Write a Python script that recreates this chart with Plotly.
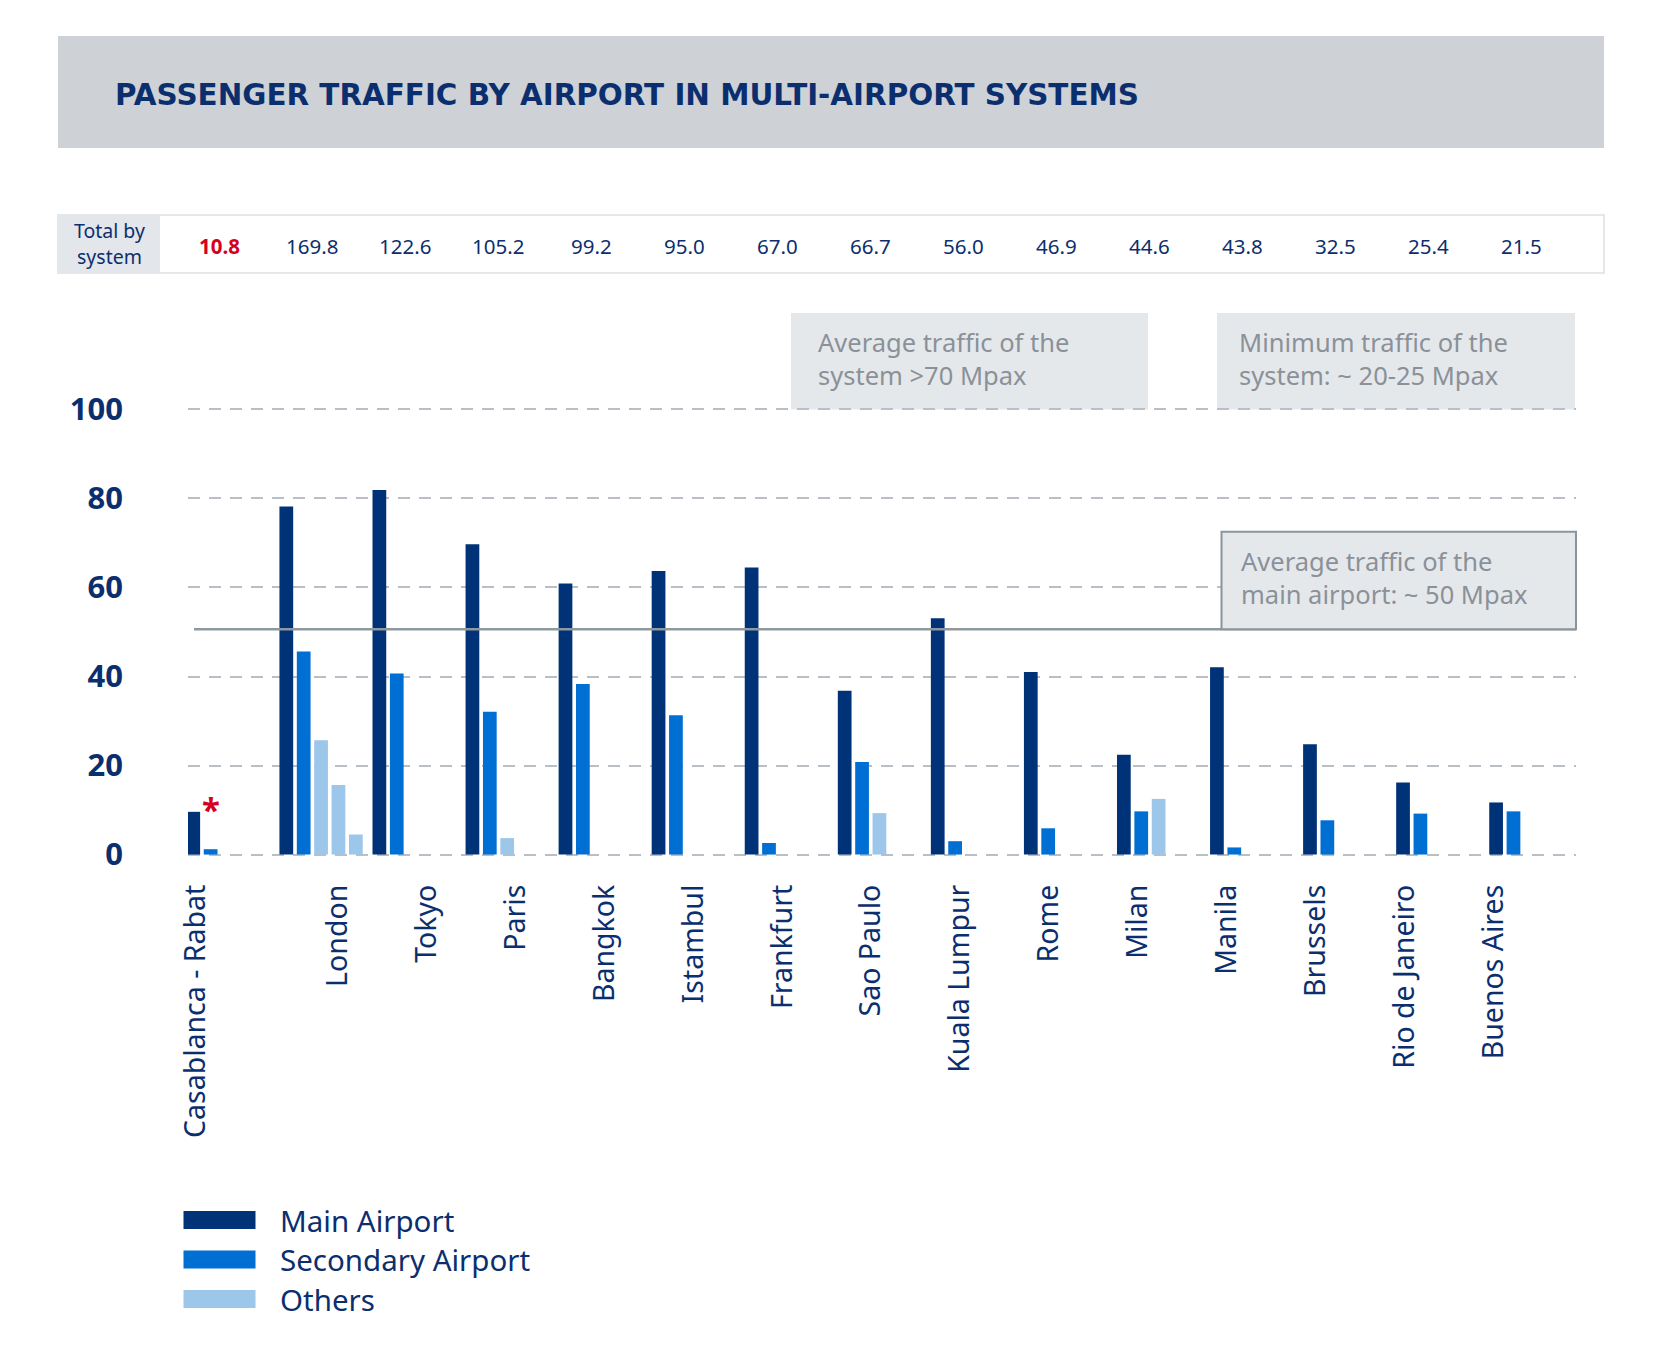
import plotly.graph_objects as go

# ---------------- data ----------------
CATEGORIES = ["Casablanca - Rabat", "London", "Tokyo", "Paris", "Bangkok", "Istambul",
              "Frankfurt", "Sao Paulo", "Kuala Lumpur", "Rome", "Milan", "Manila",
              "Brussels", "Rio de Janeiro", "Buenos Aires"]
TOTALS = [10.8, 169.8, 122.6, 105.2, 99.2, 95.0, 67.0, 66.7, 56.0, 46.9, 44.6, 43.8, 32.5, 25.4, 21.5]
MAIN = [9.6, 78.2, 81.9, 69.7, 60.9, 63.7, 64.5, 36.8, 53.1, 41.0, 22.4, 42.1, 24.8, 16.2, 11.7]
SECONDARY = [1.2, 45.6, 40.7, 32.1, 38.3, 31.3, 2.6, 20.8, 3.0, 5.9, 9.7, 1.6, 7.7, 9.2, 9.7]
OTHERS_1 = [None, 25.7, None, 3.7, None, None, None, 9.3, None, None, 12.5, None, None, None, None]
OTHERS_2 = [None, 15.6, None, None, None, None, None, None, None, None, None, None, None, None, None]
OTHERS_3 = [None, 4.5, None, None, None, None, None, None, None, None, None, None, None, None, None]
MAIN_AIRPORT_AVG = 50.6
Y_TICKS = [0, 20, 40, 60, 80, 100]

SERIES_NAMES = ["Main Airport", "Secondary Airport", "Others"]
NAVY = "#003278"
BLUE = "#006fd3"
LIGHT = "#9dc6eb"
TEXT_NAVY = "#0b2f6e"
GRAY_TXT = "#8a9198"
BOX_FILL = "#e5e8eb"
FONT = "Noto Sans"
TITLE_FONT = "DejaVu Sans"

# label slots for the rotated category labels (secondary axis positions)
LABEL_SLOTS = [-0.6] + list(range(1, 15))

x_idx = list(range(len(CATEGORIES)))

fig = go.Figure()
series = [(MAIN, NAVY, SERIES_NAMES[0]), (SECONDARY, BLUE, SERIES_NAMES[1]),
          (OTHERS_1, LIGHT, SERIES_NAMES[2]), (OTHERS_2, LIGHT, SERIES_NAMES[2]),
          (OTHERS_3, LIGHT, SERIES_NAMES[2])]
for vals, col, name in series:
    fig.add_trace(go.Bar(x=x_idx, y=vals, name=name, marker_color=col,
                         marker_line_width=0, showlegend=False))

# invisible trace to activate the label axis
fig.add_trace(go.Scatter(x=LABEL_SLOTS, y=[None] * len(LABEL_SLOTS), xaxis="x2",
                         mode="markers", showlegend=False, hoverinfo="skip"))

W, H = 1654, 1353
ML, MR, MT, MB = 180, 86, 397, 502
PW = W - ML - MR
PH = H - MT - MB


def px(xp):
    return (xp - ML) / PW


def py(yp):
    return (H - MB - yp) / PH


shapes = []
annotations = []


def note(x, y, text, size, color, family=FONT, xanchor="left", align="left", xref="paper", **kw):
    annotations.append(dict(xref=xref, yref="paper", x=x, y=y, xanchor=xanchor, yanchor="middle",
                            align=align, showarrow=False, text=text,
                            font=dict(family=family, size=size, color=color), **kw))


# header band + title
shapes.append(dict(type="rect", xref="paper", yref="paper", x0=px(50), x1=px(1596),
                   y0=py(140), y1=py(28), fillcolor="#ced2d6", line_width=0, layer="below"))
note(px(105), py(87), "<b>PASSENGER TRAFFIC BY AIRPORT IN MULTI-AIRPORT SYSTEMS</b>",
     29.4, TEXT_NAVY, family=TITLE_FONT)

# totals row
shapes.append(dict(type="rect", xref="paper", yref="paper", x0=px(50), x1=px(1596),
                   y0=py(265), y1=py(207), fillcolor="white",
                   line=dict(color="#dde1e5", width=1.5), layer="below"))
shapes.append(dict(type="rect", xref="paper", yref="paper", x0=px(50), x1=px(152),
                   y0=py(265), y1=py(207), fillcolor="#e3e6ea", line_width=0, layer="below"))
note(px(101), py(222.5), "Total by", 19.5, TEXT_NAVY, xanchor="center", align="center")
note(px(101), py(249), "system", 19.5, TEXT_NAVY, xanchor="center", align="center")
for i, t in enumerate(TOTALS):
    red = i == 0
    note(i, py(238), (f"<b>{t:.1f}</b>" if red else f"{t:.1f}"), 20.5,
         "#d6001c" if red else TEXT_NAVY, xanchor="center", align="center", xref="x", xshift=-9)

# top info boxes
for x0, x1, tx, txt in [(783, 1140, 808, "Average traffic of the<br>system >70 Mpax"),
                        (1209, 1567, 1229, "Minimum traffic of the<br>system: ~ 20-25 Mpax")]:
    shapes.append(dict(type="rect", xref="paper", yref="paper", x0=px(x0), x1=px(x1),
                       y0=py(401.5), y1=py(305), fillcolor=BOX_FILL, line_width=0, layer="below"))
    note(px(tx), py(350), txt, 25.5, GRAY_TXT)

# main airport average line + box
shapes.append(dict(type="line", xref="paper", yref="y", x0=px(186), x1=1.0,
                   y0=MAIN_AIRPORT_AVG, y1=MAIN_AIRPORT_AVG,
                   line=dict(color="#8e989f", width=2.5), layer="above"))
shapes.append(dict(type="rect", xref="paper", yref="y", x0=px(1213.5), x1=1.0,
                   y0=MAIN_AIRPORT_AVG, y1=72.5, fillcolor=BOX_FILL,
                   line=dict(color="#8a949b", width=2), layer="above"))
note(px(1231), py(569), "Average traffic of the<br>main airport: ~ 50 Mpax", 25.5, GRAY_TXT)

# red asterisk on Casablanca
annotations.append(dict(xref="x", yref="y", x=0, y=MAIN[0], xshift=-17, yshift=2,
                        showarrow=False, text="<b>*</b>",
                        font=dict(family=FONT, size=33, color="#d6001c")))

# manual legend
for k, (name, col) in enumerate(zip(SERIES_NAMES, [NAVY, BLUE, LIGHT])):
    yc = 1212 + 39.5 * k
    shapes.append(dict(type="rect", xref="paper", yref="paper", x0=px(175.5), x1=px(247.5),
                       y0=py(yc + 9), y1=py(yc - 9), fillcolor=col, line_width=0))
    note(px(270), py(yc), name, 29.5, TEXT_NAVY)

fig.update_layout(
    width=W, height=H,
    margin=dict(l=ML, r=MR, t=MT, b=MB, autoexpand=False),
    paper_bgcolor="white", plot_bgcolor="white",
    barmode="group", bargap=0.066, bargroupgap=0.21,
    showlegend=False,
    font=dict(family=FONT, color=TEXT_NAVY),
    xaxis=dict(range=[-0.430, 14.485], showticklabels=False, showgrid=False,
               zeroline=False, showline=False, ticks=""),
    xaxis2=dict(overlaying="x", anchor="y", side="bottom", range=[-0.683, 14.925],
                tickmode="array", tickvals=LABEL_SLOTS, ticktext=CATEGORIES,
                tickangle=-90, ticks="", showgrid=False, zeroline=False, showline=False,
                ticklabelstandoff=19, automargin=False,
                tickfont=dict(family=FONT, size=28.5, color=TEXT_NAVY)),
    yaxis=dict(range=[-1, 101], tickmode="array", tickvals=Y_TICKS,
               showgrid=True, gridcolor="#b8bfc6", gridwidth=1.5, griddash="12px,9px",
               zeroline=False, showline=False, ticks="", ticklabelstandoff=64,
               automargin=False,
               tickfont=dict(family=FONT, size=31, color=TEXT_NAVY, weight=700)),
    shapes=shapes, annotations=annotations,
)

fig.write_html("out.html")
